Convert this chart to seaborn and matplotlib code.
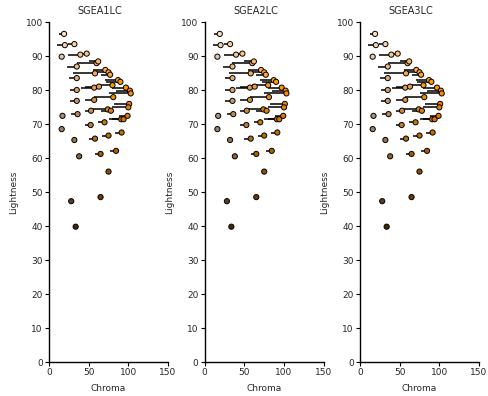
import numpy as np
import pandas as pd
import matplotlib
matplotlib.use("Agg")
import matplotlib.pyplot as plt
import seaborn as sns

sns.set_style("ticks")
plt.rcParams['font.family'] = ['DejaVu Sans']

panel_titles = ["SGEA1LC", "SGEA2LC", "SGEA3LC"]

chroma = [19, 20, 32, 16, 39.5, 47.5, 35, 60, 62,
          35, 58, 71, 75, 77,
          35, 57, 63, 80, 87, 90, 97, 102, 103,
          35, 57, 81, 101, 100,
          17, 36, 53, 74, 78, 91, 94, 99,
          16, 52.5, 70, 91.5,
          32, 58, 75,
          38, 65, 84.5,
          75, 28, 65, 33.6]
lightness = [96.5, 93.2, 93.5, 89.8, 90.4, 90.7, 86.9, 87.9, 88.4,
             83.5, 84.9, 85.9, 85.2, 84.5,
             80.0, 80.7, 81.0, 81.4, 82.9, 82.4, 80.7, 79.8, 79.0,
             76.8, 77.1, 77.9, 75.9, 74.9,
             72.4, 72.9, 73.9, 74.3, 73.9, 71.4, 71.4, 72.4,
             68.5, 69.7, 70.5, 67.5,
             65.3, 65.7, 66.6,
             60.5, 61.2, 62.1,
             56.0, 47.3, 48.5, 39.8]
line_from = [12, 10, 24, np.nan, 24, 40, 23, 35, 50,
             25, 30, 55, 60, 65,
             26, 40, 45, 60, 70, 72, 80, 85, 75,
             26, 45, 57, 82, 80,
             np.nan, 28, 45, 55, 65, 75, 80, 88,
             np.nan, 45, 62, 83,
             np.nan, 50, 67,
             np.nan, 58, 77,
             np.nan, np.nan, np.nan, np.nan]

df = pd.DataFrame({"Chroma": chroma, "Lightness": lightness, "From": line_from})


def lch_to_rgb(L, C, h=70.0):
    L = 1.25 * L - 30
    a = C * np.cos(np.radians(h))
    b = C * np.sin(np.radians(h))
    fy = (L + 16) / 116
    fx = fy + a / 500
    fz = fy - b / 200
    def finv(t):
        return np.where(t > 6 / 29, t ** 3, 3 * (6 / 29) ** 2 * (t - 4 / 29))
    X = 0.95047 * finv(fx)
    Y = 1.0 * finv(fy)
    Z = 1.08883 * finv(fz)
    r = 3.2406 * X - 1.5372 * Y - 0.4986 * Z
    g = -0.9689 * X + 1.8758 * Y + 0.0415 * Z
    bb = 0.0557 * X - 0.2040 * Y + 1.0570 * Z
    rgb = np.clip(np.array([r, g, bb]), 0, 1)
    rgb = np.where(rgb <= 0.0031308, 12.92 * rgb, 1.055 * rgb ** (1 / 2.4) - 0.055)
    return tuple(np.clip(rgb, 0, 1))


colors = [lch_to_rgb(L, C) for L, C in zip(lightness, chroma)]
df["key"] = [str(i) for i in range(len(df))]
palette = dict(zip(df["key"], colors))

fig = plt.figure(figsize=(4.88, 3.96), dpi=100)
lefts = [49 / 488, 204.7 / 488, 360 / 488]
w = 119 / 488
bottom = 1 - 362 / 396
h = 340 / 396

for left, title in zip(lefts, panel_titles):
    ax = fig.add_axes([left, bottom, w, h])
    seg = df.dropna(subset=["From"])
    ax.hlines(seg["Lightness"], seg["From"], seg["Chroma"], color="black", lw=1.1, zorder=2)
    sns.scatterplot(data=df, x="Chroma", y="Lightness", hue="key", palette=palette,
                    legend=False, s=14, edgecolor="black", linewidth=0.7, ax=ax, zorder=3)
    ax.set_xlim(0, 150)
    ax.set_ylim(0, 100)
    ax.set_xticks([0, 50, 100, 150])
    ax.set_yticks(range(0, 101, 10))
    ax.tick_params(labelsize=6.5, length=3, width=0.8, pad=1.5, color="black")
    for s in ["left", "bottom"]:
        ax.spines[s].set_linewidth(1.0)
        ax.spines[s].set_color("black")
    sns.despine(ax=ax)
    ax.set_xlabel("Chroma", fontsize=6.5, labelpad=5)
    ax.set_ylabel("Lightness", fontsize=6.5, labelpad=5)
    ax.set_title(title, fontsize=7, pad=6, x=0.43)

fig.savefig("out.png", dpi=100)
